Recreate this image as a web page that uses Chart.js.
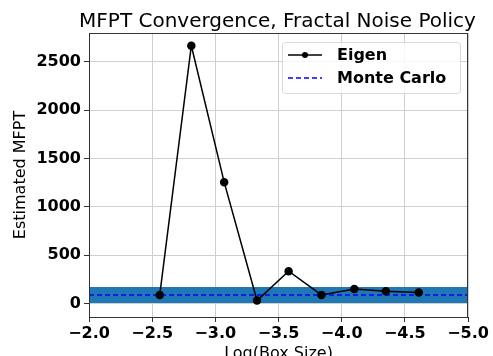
<!DOCTYPE html>
<html>
<head>
<meta charset="utf-8">
<script src="https://cdn.jsdelivr.net/npm/chart.js@4/dist/chart.umd.min.js"></script>
<style>
  html, body { margin: 0; padding: 0; background: #fff; }
  #wrap { width: 493px; height: 356px; }
</style>
</head>
<body>
<div id="wrap"><canvas id="mfptChart" width="493" height="356"></canvas></div>
<script>
// data
const logBoxSize = [-2.56, -2.81, -3.07, -3.33, -3.58, -3.84, -4.10, -4.35, -4.61];
const eigenMfpt = [89, 2665, 1255, 31, 334, 89, 151, 127, 114];
const monteCarloMfpt = 89;
const mcBandLow = 6;
const mcBandHigh = 172;
const xTicks = [-2.0, -2.5, -3.0, -3.5, -4.0, -4.5, -5.0];
const yTicks = [0, 500, 1000, 1500, 2000, 2500];

const FONT = '"DejaVu Sans", sans-serif';
const minus = v => v.toFixed(1).replace('-', '\u2212');

// titles, frame and legend drawn on top of the chart
const decor = {
  id: 'decor',
  afterDraw(chart) {
    const { ctx, chartArea: a } = chart;
    ctx.save();
    ctx.strokeStyle = '#333';
    ctx.lineWidth = 1;
    ctx.strokeRect(a.left + 0.5, a.top + 0.5, a.right - a.left - 1, a.bottom - a.top);

    ctx.fillStyle = '#000';
    ctx.textAlign = 'center';
    ctx.textBaseline = 'alphabetic';
    ctx.font = '20px ' + FONT;
    ctx.fillText('MFPT Convergence, Fractal Noise Policy', 277.5, 27);

    ctx.font = '16px ' + FONT;
    ctx.fillText('Log(Box Size)', (a.left + a.right) / 2, 358);

    ctx.translate(25, (a.top + a.bottom) / 2);
    ctx.rotate(-Math.PI / 2);
    ctx.fillText('Estimated MFPT', 0, 0);
    ctx.restore();

    // legend
    ctx.save();
    const lx = 282, ly = 42, lw = 178, lh = 51;
    ctx.fillStyle = 'rgba(255,255,255,0.8)';
    ctx.strokeStyle = '#d8d8d8';
    ctx.lineWidth = 1;
    ctx.beginPath();
    ctx.roundRect(lx + 0.5, ly + 0.5, lw, lh, 3);
    ctx.fill();
    ctx.stroke();

    const rows = [
      { label: 'Eigen', color: '#000', dash: [], dot: true, y: 55 },
      { label: 'Monte Carlo', color: '#0000ff', dash: [5, 3], dot: false, y: 78 }
    ];
    rows.forEach(r => {
      ctx.strokeStyle = r.color;
      ctx.lineWidth = 1.5;
      ctx.setLineDash(r.dash);
      ctx.beginPath();
      ctx.moveTo(288, r.y);
      ctx.lineTo(322, r.y);
      ctx.stroke();
      ctx.setLineDash([]);
      if (r.dot) {
        ctx.fillStyle = r.color;
        ctx.beginPath();
        ctx.arc(305, r.y, 3, 0, Math.PI * 2);
        ctx.fill();
      }
      ctx.fillStyle = '#000';
      ctx.font = 'bold 16px ' + FONT;
      ctx.textAlign = 'left';
      ctx.textBaseline = 'middle';
      ctx.fillText(r.label, 337, r.y + 1);
    });
    ctx.restore();
  }
};

new Chart(document.getElementById('mfptChart'), {
  type: 'line',
  data: {
    datasets: [
      {
        label: 'band',
        data: [{ x: -2, y: mcBandHigh }, { x: -5, y: mcBandHigh }],
        fill: { value: mcBandLow },
        backgroundColor: '#1f77b4',
        borderWidth: 0,
        pointRadius: 0,
        order: 3
      },
      {
        label: 'Monte Carlo',
        data: [{ x: -2, y: monteCarloMfpt }, { x: -5, y: monteCarloMfpt }],
        borderColor: '#0000ff',
        borderDash: [5, 3],
        borderWidth: 1.5,
        pointRadius: 0,
        fill: false,
        order: 2
      },
      {
        label: 'Eigen',
        data: logBoxSize.map((x, i) => ({ x, y: eigenMfpt[i] })),
        borderColor: '#000',
        backgroundColor: '#000',
        borderWidth: 1.5,
        pointRadius: 3.5,
        pointBackgroundColor: '#000',
        tension: 0,
        fill: false,
        order: 1
      }
    ]
  },
  options: {
    responsive: false,
    animation: false,
    layout: { padding: { left: 0, right: 25, top: 33, bottom: 0 } },
    plugins: {
      legend: { display: false },
      title: { display: false },
      tooltip: { enabled: false }
    },
    scales: {
      x: {
        type: 'linear',
        reverse: true,
        min: -5,
        max: -2,
        afterBuildTicks: s => { s.ticks = xTicks.map(v => ({ value: v })); },
        afterFit: s => { s.height = 39; },
        ticks: {
          color: '#000',
          font: { family: FONT, size: 16, weight: 'bold' },
          padding: 2,
          maxRotation: 0,
          callback: v => minus(v)
        },
        grid: { color: '#cfcfcf', tickColor: '#333', tickLength: 5, lineWidth: 1 },
        border: { display: false }
      },
      y: {
        type: 'linear',
        min: -139,
        max: 2797,
        afterBuildTicks: s => { s.ticks = yTicks.map(v => ({ value: v })); },
        afterFit: s => { s.width = 89; },
        ticks: {
          color: '#000',
          font: { family: FONT, size: 16, weight: 'bold' },
          padding: 3,
          callback: v => String(v)
        },
        grid: { color: '#cfcfcf', tickColor: '#333', tickLength: 5, lineWidth: 1 },
        border: { display: false }
      }
    }
  },
  plugins: [decor]
});
</script>
</body>
</html>
